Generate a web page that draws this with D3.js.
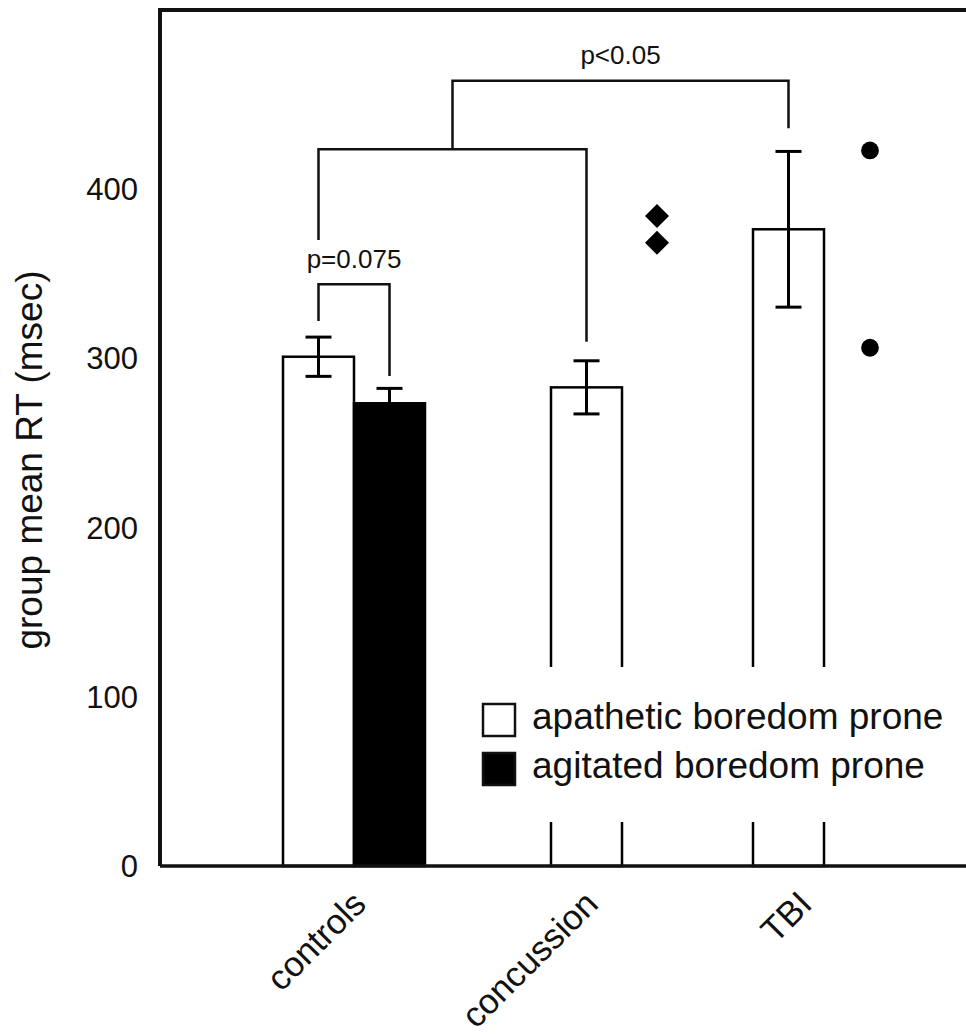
<!DOCTYPE html>
<html>
<head>
<meta charset="utf-8">
<script src="https://cdn.jsdelivr.net/npm/d3@7"></script>
<style>
  body { margin: 0; background: #fff; }
  text { font-family: "Liberation Sans", Arial, sans-serif; fill: #111; }
</style>
</head>
<body>
<svg id="chart" width="966" height="1036"></svg>
<script>
// values (msec)
const groups = ["controls", "concussion", "TBI"];
const apathetic = [300.9, 282.8, 376.2];
const apatheticErr = [11.6, 15.7, 46];
const agitated = [273.4, null, null];
const agitatedErr = [8.8, null, null];
const yTicks = [0, 100, 200, 300, 400];
const legendLabels = ["apathetic boredom prone", "agitated boredom prone"];

// individual markers (msec)
const diamondVals = [384, 368.3];
const circleVals = [422.8, 306.2];

// significance brackets, levels in msec
const brackets = [
  { label: "p=0.075", from: ["controls", 0], to: ["controls", 1], left: 322, top: 343.7, right: 289.5, labelY: 353.3 },
  { label: "", from: ["controls", 0], to: ["concussion", 0], left: 369.9, top: 423.5, right: 309.8 },
  { label: "p<0.05", from: ["mid", 0], to: ["TBI", 0], left: 423.5, top: 464, right: 435.9, labelY: 474 }
];

const svg = d3.select("#chart");
const W = 966;
const marginLeft = 160, marginTop = 10, baseY = 866;
const barW = 71;

const y = d3.scaleLinear().domain([0, 400]).range([baseY, 189]);
const groupX = d3.scaleOrdinal().domain(groups).range([283, 551, 753]);
const markerX = d3.scaleOrdinal().domain(["concussion", "TBI"]).range([657, 870]);
const labelX = d3.scaleOrdinal().domain(groups).range([368, 600, 814]);

const barCenter = (g, k) => groupX(g) + barW * k + barW / 2;
const bx = ([g, k]) => g === "mid" ? (barCenter("controls", 0) + barCenter("concussion", 0)) / 2 : barCenter(g, k);

// bars
const barData = [];
groups.forEach((g, i) => {
  barData.push({ g, k: 0, v: apathetic[i], e: apatheticErr[i], fill: "#fff" });
  if (agitated[i] != null) barData.push({ g, k: 1, v: agitated[i], e: agitatedErr[i], fill: "#000" });
});

svg.append("g").selectAll("rect")
  .data(barData)
  .join("rect")
  .attr("x", d => groupX(d.g) + barW * d.k)
  .attr("y", d => y(d.v))
  .attr("width", barW)
  .attr("height", d => y(0) - y(d.v))
  .attr("fill", d => d.fill)
  .attr("stroke", "#000")
  .attr("stroke-width", 2.5);

// white break behind the legend
svg.append("rect")
  .attr("x", 440).attr("y", y(117.6))
  .attr("width", W - 440).attr("height", y(26) - y(117.6))
  .attr("fill", "#fff");

// error bars
const eb = svg.append("g").attr("stroke", "#000").attr("stroke-width", 3);
barData.forEach(d => {
  const cx = barCenter(d.g, d.k);
  eb.append("line").attr("x1", cx).attr("x2", cx).attr("y1", y(d.v - d.e)).attr("y2", y(d.v + d.e));
  [d.v - d.e, d.v + d.e].forEach(v => {
    eb.append("line").attr("x1", cx - 13).attr("x2", cx + 13).attr("y1", y(v)).attr("y2", y(v));
  });
});

// brackets
const br = svg.append("g");
brackets.forEach(b => {
  const x1 = bx(b.from), x2 = bx(b.to);
  br.append("path")
    .attr("d", `M${x1},${y(b.left)}V${y(b.top)}H${x2}V${y(b.right)}`)
    .attr("fill", "none").attr("stroke", "#111").attr("stroke-width", 2.5);
  if (b.label) {
    br.append("text")
      .attr("x", (x1 + x2) / 2).attr("y", y(b.labelY))
      .attr("text-anchor", "middle").attr("font-size", 26)
      .text(b.label);
  }
});

// markers
svg.append("g").selectAll("path")
  .data(diamondVals)
  .join("path")
  .attr("d", d3.symbol(d3.symbolSquare, 289))
  .attr("transform", d => `translate(${markerX("concussion")},${y(d)}) rotate(45)`)
  .attr("fill", "#000");

svg.append("g").selectAll("path")
  .data(circleVals)
  .join("path")
  .attr("d", d3.symbol(d3.symbolCircle, 248))
  .attr("transform", d => `translate(${markerX("TBI")},${y(d)})`)
  .attr("fill", "#000");

// legend
const lg = svg.append("g").attr("transform", "translate(482,703)");
legendLabels.forEach((t, i) => {
  lg.append("rect")
    .attr("x", 1).attr("y", i * 49 + 1).attr("width", 32).attr("height", 32)
    .attr("fill", i === 0 ? "#fff" : "#000").attr("stroke", "#111").attr("stroke-width", 2.5);
  lg.append("text")
    .attr("x", 50).attr("y", i * 49 + 26)
    .attr("font-size", 37)
    .text(t);
});

// frame
const fr = svg.append("g").attr("stroke", "#111").attr("fill", "none");
fr.append("path").attr("d", `M${W},${marginTop}H${marginLeft}V${baseY}`).attr("stroke-width", 4);
fr.append("path").attr("d", `M${marginLeft},${baseY}H${W}`).attr("stroke-width", 3.5);

// y tick labels
svg.append("g").selectAll("text")
  .data(yTicks)
  .join("text")
  .attr("x", 138)
  .attr("y", d => y(d))
  .attr("dy", "0.36em")
  .attr("text-anchor", "end")
  .attr("font-size", 31)
  .text(d => d);

// y title
svg.append("text")
  .attr("transform", "translate(42,460) rotate(-90)")
  .attr("text-anchor", "middle")
  .attr("font-size", 37)
  .text("group mean RT (msec)");

// x labels
svg.append("g").selectAll("text")
  .data(groups)
  .join("text")
  .attr("transform", d => `translate(${labelX(d)},906) rotate(-45)`)
  .attr("text-anchor", "end")
  .attr("font-size", 35)
  .text(d => d);
</script>
</body>
</html>
